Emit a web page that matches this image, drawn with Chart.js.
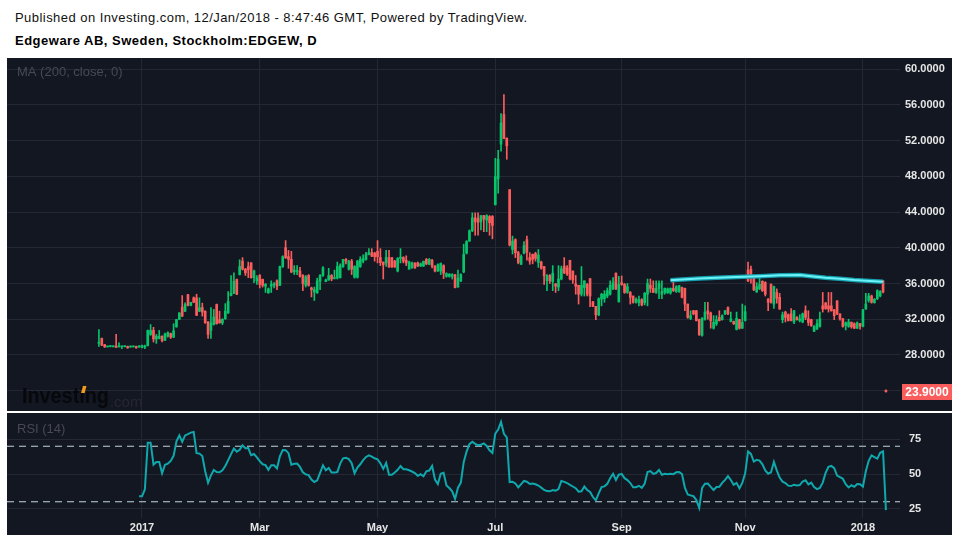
<!DOCTYPE html>
<html>
<head>
<meta charset="utf-8">
<title>Edgeware AB, Stockholm:EDGEW, D</title>
<script src="https://cdn.jsdelivr.net/npm/chart.js@4.4.1/dist/chart.umd.min.js"></script>
<style>
  html, body { margin: 0; padding: 0; background: #fff; }
  body { width: 960px; height: 540px; position: relative; overflow: hidden; font-family: Arial, "Liberation Sans", sans-serif; }
  #pub { position: absolute; left: 15px; top: 10px; font-size: 13px; color: #111; white-space: nowrap; letter-spacing: 0.45px; }
  #title { position: absolute; left: 15px; top: 33px; font-size: 13px; font-weight: bold; color: #000; letter-spacing: 0.5px; white-space: nowrap; }
  #panel { position: absolute; left: 7px; top: 58px; width: 945px; height: 477px; background: #131722; }
  #mainBox { position: absolute; left: 7px; top: 58px; width: 945px; height: 353px; }
  #sep { position: absolute; left: 7px; top: 411px; width: 945px; height: 2px; background: #fff; }
  #rsiBox { position: absolute; left: 7px; top: 413px; width: 945px; height: 122px; }
</style>
</head>
<body>
<div id="pub">Published on Investing.com, 12/Jan/2018 - 8:47:46 GMT, Powered by TradingView.</div>
<div id="title">Edgeware AB, Sweden, Stockholm:EDGEW, D</div>
<div id="panel"></div>
<div id="mainBox"><canvas id="mainChart" width="945" height="353"></canvas></div>
<div id="sep"></div>
<div id="rsiBox"><canvas id="rsiChart" width="945" height="122"></canvas></div>
<script>
// daily candles, one entry per trading day: [open, high, low, close]
const dec2016 = [
  [29.3,30.85,28.97,29.4],[29.85,29.9,29.05,29.1],[29.15,29.2,28.85,28.9],[28.9,29.0,28.9,28.95],[28.95,29.0,28.9,28.95],
  [28.92,29.0,28.9,28.95],[29.0,30.3,28.85,28.85],[28.9,29.35,28.9,28.95],[28.92,28.97,28.7,28.95],[28.93,29.0,28.9,28.95],
  [28.95,29.0,28.75,28.8],[28.9,29.0,28.85,28.95],[28.9,28.97,28.9,28.95],[28.95,29.0,28.75,28.8],[28.9,29.05,28.85,28.95]
];
const jan2017 = [
  [28.85,29.1,28.8,29.05],[28.9,29.1,28.7,29.0],[29.05,30.8,29.0,30.75],[30.3,31.4,30.2,30.75],[30.75,31.1,29.45,29.8],
  [29.8,30.3,29.3,30.1],[29.85,30.75,29.8,30.1],[30.1,30.15,29.45,29.6],[29.65,30.45,29.6,30.35],[30.1,30.6,30.0,30.5],
  [30.4,30.45,29.85,30.0],[30.0,31.5,29.95,30.7],[31.15,32.0,31.1,31.95],[32.0,32.75,31.95,32.7],[33.35,34.65,32.3,32.35],
  [32.9,33.85,32.85,33.65],[34.75,34.8,33.5,33.55],[33.55,33.9,33.5,33.9],[34.4,34.5,33.85,33.9],[34.4,34.8,32.4,32.45],
  [32.9,34.4,32.85,33.3]
];
const feb2017 = [
  [33.3,33.8,32.35,32.8],[32.9,32.95,31.55,31.6],[31.7,31.75,29.85,30.3],[30.75,33.3,29.85,31.6],[31.4,33.1,31.35,32.25],
  [33.65,33.7,31.45,31.5],[31.95,32.9,31.55,31.6],[31.6,32.05,31.4,32.0],[32.05,33.75,32.0,32.9],[32.7,35.1,32.65,34.0],
  [34.65,36.9,34.6,34.9],[34.9,37.2,34.85,36.25],[36.45,36.5,34.75,34.8],[37.0,38.65,36.95,37.9],[38.5,38.9,37.5,37.6],
  [37.6,37.7,36.9,37.2],[37.9,38.4,36.65,37.55],[38.3,38.35,36.6,36.65],[36.65,37.5,36.1,37.4],[36.3,36.9,35.9,36.6]
];
const mar2017 = [
  [36.9,37.0,35.5,35.9],[36.45,36.5,35.6,35.8],[35.7,36.0,35.0,35.9],[34.95,35.5,34.9,35.4],[35.7,36.3,35.0,35.9],
  [35.85,36.1,35.5,35.9],[36.3,36.4,35.3,35.7],[35.8,37.95,35.75,37.9],[37.9,39.1,37.8,39.0],[40.0,40.8,38.8,38.9],
  [39.0,39.7,37.7,38.7],[38.7,39.6,37.2,37.3],[37.3,38.0,37.0,37.5],[37.35,38.0,37.0,37.4],[37.4,37.8,36.7,36.8],
  [36.9,37.0,35.2,36.0],[35.8,36.9,35.6,36.75],[36.9,37.0,35.7,35.8],[35.5,35.6,34.5,35.3],[35.05,35.6,34.1,35.3],
  [34.95,36.6,34.9,36.3],[36.25,37.0,35.3,36.9],[36.9,37.9,36.8,37.75]
];
const apr2017 = [
  [36.2,36.5,36.2,36.4],[36.4,37.7,36.35,36.9],[36.9,37.0,36.3,36.5],[36.55,37.5,36.5,36.65],[36.6,38.4,36.5,37.9],
  [36.65,38.2,36.6,38.0],[37.9,38.7,37.8,38.7],[38.7,38.8,38.2,38.5],[37.6,38.6,37.5,38.5],[38.5,38.7,37.0,37.6],
  [36.7,38.0,36.6,37.9],[36.7,38.6,36.6,38.5],[37.9,39.0,37.8,38.7],[38.5,39.2,38.3,38.8],[38.7,39.5,38.6,39.3],
  [39.25,39.9,39.2,39.45],[39.45,39.9,39.0,39.05],[39.4,39.5,38.5,39.0]
];
const may2017 = [
  [39.6,40.8,38.3,39.0],[38.9,39.9,38.0,38.35],[38.4,38.4,36.5,38.1],[38.3,39.7,37.9,38.9],[38.9,39.7,37.8,37.85],
  [38.9,38.9,37.8,37.85],[38.5,38.6,37.8,37.85],[37.4,38.9,37.3,38.8],[38.8,39.9,38.3,38.95],[38.9,39.0,38.3,38.5],
  [38.6,39.1,38.0,38.3],[37.6,38.5,37.6,38.4],[37.8,38.4,37.7,38.3],[38.3,38.3,37.7,37.75],[38.3,38.4,37.9,37.95],
  [37.95,38.3,37.9,38.2],[37.95,38.5,37.9,38.5],[38.7,38.8,38.1,38.2],[38.15,38.8,38.1,38.7],[38.6,38.7,37.75,37.95],
  [37.95,38.0,37.3,37.4]
];
const jun2017 = [
  [37.4,38.2,37.35,38.1],[37.4,38.3,37.0,38.25],[38.0,38.1,36.55,37.15],[36.8,37.2,36.7,37.1],[36.8,37.1,36.7,37.05],
  [36.8,37.1,36.5,37.0],[37.0,37.0,35.5,35.55],[35.6,37.5,35.6,36.6],[36.3,37.1,36.2,37.0],[37.3,40.4,37.2,39.25],
  [39.4,40.8,39.3,40.7],[40.75,42.0,40.7,41.9],[41.9,43.9,41.8,43.35],[43.35,43.9,41.4,42.9],[43.3,43.9,41.4,42.85],
  [42.9,43.6,42.0,43.6],[43.6,43.6,41.8,43.2],[43.1,43.7,41.8,43.6],[43.5,43.6,41.4,42.8],[43.5,43.6,41.0,42.5]
];
const jul2017 = [
  [44.8,50.0,44.8,47.96],[47.7,50.9,46.1,49.9],[51.6,55.0,50.8,53.96],[54.9,57.15,52.2,52.2],[52.25,52.3,49.9,51.4],
  [46.5,46.5,40.2,40.3],[39.8,41.3,39.3,40.75],[40.9,41.0,38.9,39.45],[39.45,39.6,38.2,38.35],[38.15,39.2,38.1,39.05],
  [39.4,40.7,39.3,40.25],[40.9,41.3,38.6,39.5],[38.9,39.45,38.15,38.5],[39.25,39.3,38.2,38.7],[39.35,39.5,38.5,38.8],
  [38.35,39.8,37.8,39.2],[38.4,38.5,37.6,37.7],[37.9,37.9,35.9,36.85],[36.3,37.0,35.2,36.9],[36.9,37.0,36.0,36.3],
  [36.2,38.0,35.2,37.15]
];
const aug2017 = [
  [35.95,36.0,35.0,35.7],[35.6,38.0,35.2,36.5],[36.5,37.95,36.4,37.65],[37.95,38.9,37.1,37.2],[37.75,38.0,36.9,37.05],
  [38.6,38.6,36.4,36.5],[37.4,37.4,36.0,36.4],[35.95,36.9,34.8,35.7],[35.8,35.8,33.7,34.8],[34.8,37.9,34.6,35.8],
  [35.55,36.3,34.6,36.3],[35.9,36.0,34.6,34.8],[36.55,36.55,33.4,34.6],[33.95,34.0,33.4,33.45],[33.45,33.45,31.95,32.5],
  [32.5,34.4,32.4,34.3],[34.26,34.9,33.5,34.8],[34.3,35.2,33.9,34.8],[34.6,35.5,34.4,35.2],[34.8,36.3,34.7,35.8],
  [35.4,36.65,35.3,36.1],[37.15,37.2,35.3,35.4],[33.96,36.8,33.9,35.9]
];
const sep2017 = [
  [36.1,36.85,35.8,35.9],[35.9,36.0,34.9,35.0],[35.0,36.0,34.9,35.65],[35.0,35.1,33.7,34.45],[34.6,34.6,33.8,33.9],
  [33.9,34.4,33.8,34.25],[33.85,34.6,33.5,34.2],[34.2,34.3,33.5,33.6],[33.85,35.0,33.6,34.9],[34.8,36.5,33.5,36.0],
  [35.8,36.5,35.0,35.45],[35.45,36.3,35.0,35.0],[35.0,36.3,34.9,35.45],[35.45,36.3,34.3,36.0],[34.8,36.3,34.3,35.1],
  [35.0,35.5,34.8,35.45],[34.95,35.5,34.9,35.4],[34.95,35.5,34.8,35.45],[35.45,36.4,35.1,35.2],[35.1,35.75,35.0,35.65],
  [35.1,35.8,35.0,35.75]
];
const oct2017 = [
  [35.55,35.6,34.4,34.45],[35.45,35.5,32.95,33.7],[33.7,33.7,32.1,32.2],[32.1,32.95,31.95,32.4],[32.95,33.0,32.5,32.6],
  [32.95,33.0,31.8,31.85],[32.0,32.0,30.2,30.25],[30.2,32.2,30.1,32.1],[32.0,33.9,31.9,32.8],[32.95,33.9,32.0,32.6],
  [32.7,32.8,31.0,31.85],[31.0,32.4,30.9,31.65],[31.5,32.4,31.3,31.95],[32.2,32.95,31.8,31.85],[31.95,32.5,31.9,32.4],
  [32.6,33.0,32.5,32.95],[33.3,33.4,32.5,32.6],[31.75,32.8,31.7,32.05],[31.75,31.8,31.4,31.5],[30.85,32.8,30.8,32.1],
  [31.95,32.0,30.9,31.0],[31.0,33.7,30.95,31.65]
];
const nov2017 = [
  [31.85,33.5,31.8,32.85],[37.5,38.4,36.2,36.3],[37.6,37.95,36.05,36.85],[36.85,36.9,35.2,35.3],[35.05,36.1,35.0,35.65],
  [35.4,36.9,35.3,35.9],[36.25,36.3,35.1,35.2],[36.1,36.2,34.6,34.8],[34.25,34.3,32.95,33.9],[35.9,35.95,33.8,33.9],
  [33.7,35.7,33.2,35.65],[35.0,35.4,33.8,34.35],[34.45,34.9,33.1,33.15],[31.95,32.8,31.6,32.5],[32.8,32.9,31.7,32.2],
  [32.5,32.6,31.8,31.85],[32.6,33.2,31.8,31.85],[31.7,33.0,31.5,32.95],[32.2,32.3,31.9,31.95],[31.85,32.5,31.7,32.05],
  [31.7,32.7,31.6,32.6],[32.95,33.5,31.95,32.2]
];
const dec2017 = [
  [32.05,32.95,31.3,31.65],[31.95,32.0,31.2,31.3],[30.65,31.3,30.6,31.2],[30.9,31.95,30.85,31.5],[31.2,32.8,31.1,32.05],
  [33.5,35.0,32.8,33.15],[33.8,33.9,33.1,33.2],[33.5,35.0,32.8,33.15],[33.5,35.0,32.9,32.95],[33.05,33.1,31.95,32.4],
  [34.05,34.1,32.5,32.6],[32.6,32.6,31.9,32.05],[32.05,32.1,31.1,31.2],[31.3,31.7,30.8,31.6],[31.2,32.0,31.1,31.7],
  [31.65,31.7,31.0,31.15],[31.5,31.6,30.95,31.0],[31.0,31.7,30.95,31.6],[31.5,31.55,30.9,31.25]
];
const jan2018 = [
  [31.2,33.1,31.15,33.05],[33.15,34.9,33.1,33.7],[34.1,34.9,33.9,34.6],[34.6,34.7,33.8,33.9],[33.85,34.3,33.8,34.25],
  [34.3,35.3,34.2,35.2],[34.6,35.2,34.5,35.1],[36.3,36.35,34.95,35.05],[24.05,24.1,23.85,23.9]
];

// MA(200) line at a few bars
const maIndex  = [199, 203, 209, 215, 222, 230, 237, 244, 248, 253, 258, 263, 267, 273];
const maValues = [36.37, 36.45, 36.55, 36.65, 36.72, 36.82, 36.93, 36.95, 36.82, 36.65, 36.52, 36.38, 36.3, 36.2];

// RSI(14), starting at bar 14
const rsiStart = 14;
const rsiValues = [
  33.9, 33.9, 38.9, 72.6, 72.6, 56.7, 58.7, 58.7, 50.5, 56.7,
  57.5, 59.4, 63.1, 73.6, 77.9, 73.2, 77.8, 78.7, 79.8, 80.3,
  65, 64.7, 63, 52, 43.7, 49, 52.9, 51.4, 51.2, 52.7,
  55.8, 60, 64.3, 68.3, 66, 67.4, 70.7, 68.6, 68.7, 63.5,
  64.4, 62, 59.3, 57, 56.4, 53, 56.25, 56.25, 54, 62.8,
  67.3, 67.2, 65, 56.7, 57.4, 57.5, 55.1, 51.2, 49.7, 49.2,
  46, 44.2, 45.4, 50.8, 56.3, 52.7, 54.3, 51, 51, 51.4,
  57.5, 61.3, 61.7, 60.7, 57.8, 50.5, 54.7, 57, 60, 62.3,
  63.5, 62.5, 61.3, 60.6, 57.7, 53.7, 58, 49.5, 49.5, 51.1,
  53, 55.7, 53.4, 53.4, 52.7, 51.8, 50.7, 48.7, 49.8, 48.4,
  51.9, 52.5, 55.8, 46, 42.7, 50.2, 50.9, 41.8, 39.9, 37.5,
  32, 40.1, 43.75, 58.5, 66.2, 71.5, 73.2, 71.7, 70.7, 71.1,
  72.1, 70.2, 67.1, 65.2, 79.1, 82, 87.5, 79, 76.4, 44.2,
  44.4, 43.2, 40.4, 42.7, 45, 44.4, 42.8, 43.2, 42.6, 41.7,
  40.2, 38.5, 37.7, 37.5, 38.4, 38, 39.1, 45, 44.3, 43.5,
  42.2, 41, 39.8, 37.3, 37.6, 41, 38.5, 37.1, 33.4, 31,
  36, 40.6, 41.1, 42.9, 47, 50.2, 45.7, 49.5, 50.1, 47,
  45.6, 43.5, 40.4, 40.5, 41.5, 40, 43, 51.4, 52.1, 50.1,
  50.7, 53, 49.5, 50.2, 49.9, 50.1, 49.9, 51.2, 51.4, 50,
  40.2, 35.2, 34.6, 34, 31.2, 25.5, 40, 43, 43.1, 40.7,
  38.5, 40.6, 40.8, 43.6, 45.8, 48.5, 45.7, 42.2, 43.6, 39.6,
  43.6, 50.5, 66.3, 64.5, 59, 60.2, 59.7, 57, 52.6, 50.2,
  51.3, 58.7, 52.6, 47.4, 44.5, 43.5, 41.6, 41.3, 42.3, 41.8,
  42, 44.6, 45.5, 42.5, 43.8, 40.6, 39.1, 40, 43.8, 50.8,
  55.2, 55.8, 54.2, 48.9, 47.8, 46.6, 42.6, 40.3, 41.9, 40.8,
  42.8, 42.7, 40.9, 52, 59.5, 63.4, 62.2, 61.1, 65.3, 66.3, 24
];

// axis ticks
const xTickIndex  = [15, 56, 97, 138, 182, 225, 266];
const xTickLabels = ['2017', 'Mar', 'May', 'Jul', 'Sep', 'Nov', '2018'];
const priceTicks  = [24, 28, 32, 36, 40, 44, 48, 52, 56, 60];
const rsiTicks    = [25, 50, 75];
const rsiBands    = [70, 30];

const upColor = '#08c46b';
const downColor = '#fb5d5d';
const gridColor = '#242834';
const labelColor = '#e6e6e6';
const faintText = '#464a56';
const xMin = -32, xMax = 278.9;

const candles = [].concat(dec2016, jan2017, feb2017, mar2017, apr2017, may2017, jun2017,
  jul2017, aug2017, sep2017, oct2017, nov2017, dec2017, jan2018);

const wickData = candles.map((c, i) => ({ x: i, y: [c[2], c[1]] }));
const bodyData = candles.map((c, i) => ({ x: i, y: [Math.min(c[0], c[3]), Math.max(c[0], c[3])] }));
const candleColors = candles.map(c => c[3] >= c[0] ? upColor : downColor);
const maData = maIndex.map((x, k) => ({ x: x, y: maValues[k] }));
const rsiData = rsiValues.map((v, k) => ({ x: rsiStart + k, y: v }));

const axisFont = { family: 'Arial, "Liberation Sans", sans-serif', size: 11, weight: 'bold' };

// main pane: candles + MA
new Chart(document.getElementById('mainChart').getContext('2d'), {
  type: 'bar',
  data: {
    datasets: [
      { type: 'line', data: maData, borderColor: '#6af2f6', borderWidth: 2, pointRadius: 0, order: 0 },
      { type: 'line', data: maData, borderColor: '#159fae', borderWidth: 4.5, pointRadius: 0, order: 1 },
      { data: bodyData, backgroundColor: candleColors, barThickness: 2, minBarLength: 1, grouped: false, order: 2 },
      { data: wickData, backgroundColor: candleColors, barThickness: 1, minBarLength: 1, grouped: false, order: 3 }
    ]
  },
  options: {
    responsive: false,
    animation: false,
    events: [],
    layout: { padding: 0, autoPadding: false },
    plugins: { legend: { display: false }, tooltip: { enabled: false } },
    scales: {
      x: {
        type: 'linear', min: xMin, max: xMax, offset: false,
        afterBuildTicks: s => { s.ticks = xTickIndex.map(v => ({ value: v })); },
        ticks: { display: false },
        grid: { color: gridColor, drawTicks: false, offset: false },
        border: { display: false },
        afterFit: s => { s.height = 0; s.paddingLeft = 0; s.paddingRight = 0; }
      },
      y: {
        position: 'right', min: 21.734, max: 61.231,
        afterBuildTicks: s => { s.ticks = priceTicks.map(v => ({ value: v })); },
        ticks: { color: labelColor, font: axisFont, padding: 5, callback: v => v >= 28 ? v.toFixed(4) : '' },
        grid: { color: gridColor, drawTicks: false },
        border: { display: false },
        afterFit: s => { s.width = 52; s.paddingTop = 0; s.paddingBottom = 0; }
      }
    }
  },
  plugins: [{
    id: 'mainText',
    beforeDatasetsDraw(chart) {
      const ctx = chart.ctx;
      ctx.save();
      ctx.fillStyle = faintText;
      ctx.font = '13px Arial, "Liberation Sans", sans-serif';
      ctx.textBaseline = 'middle';
      ctx.fillText('MA (200, close, 0)', 10, 14);
      // watermark logo
      ctx.translate(15, 345);
      ctx.save();
      ctx.scale(0.9, 1);
      ctx.font = 'bold 22px Arial, "Liberation Sans", sans-serif';
      ctx.textBaseline = 'alphabetic';
      ctx.fillStyle = '#07080b';
      ctx.fillText('Investing', 0, 0);
      const wInv = ctx.measureText('Investing').width;
      const wPre = ctx.measureText('Invest').width;
      const wI = ctx.measureText('i').width;
      ctx.fillStyle = '#f29a1b';
      ctx.beginPath();
      const dx = wPre + wI / 2;
      ctx.moveTo(dx - 1, -10); ctx.lineTo(dx + 3, -10); ctx.lineTo(dx + 5, -17); ctx.lineTo(dx + 1, -17);
      ctx.closePath(); ctx.fill();
      ctx.restore();
      ctx.font = '15px Arial, "Liberation Sans", sans-serif';
      ctx.fillStyle = '#262830';
      ctx.fillText('.com', wInv * 0.9 + 1, 0);
      ctx.restore();
    },
    afterDraw(chart) {
      const ctx = chart.ctx;
      const y = chart.scales.y.getPixelForValue(candles[candles.length - 1][3]);
      const right = chart.chartArea.right;
      ctx.save();
      ctx.fillStyle = downColor;
      ctx.fillRect(right + 2, Math.round(y) - 8, 50, 16);
      ctx.fillStyle = '#ffffff';
      ctx.font = 'bold 12px Arial, "Liberation Sans", sans-serif';
      ctx.textAlign = 'center';
      ctx.textBaseline = 'middle';
      ctx.fillText(candles[candles.length - 1][3].toFixed(4), right + 27, Math.round(y) + 0.5);
      ctx.restore();
    }
  }]
});

// RSI pane
const bandSets = rsiBands.map(v => ({
  data: [{ x: xMin, y: v }, { x: xMax, y: v }],
  borderColor: '#c3d6dc', borderWidth: 1, borderDash: [7, 5], pointRadius: 0, order: 1
}));

new Chart(document.getElementById('rsiChart').getContext('2d'), {
  type: 'line',
  data: {
    datasets: [
      { data: rsiData, borderColor: '#0fa8ad', borderWidth: 2, pointRadius: 0, tension: 0, order: 0 }
    ].concat(bandSets)
  },
  options: {
    responsive: false,
    animation: false,
    events: [],
    layout: { padding: 0, autoPadding: false },
    plugins: { legend: { display: false }, tooltip: { enabled: false } },
    scales: {
      x: {
        type: 'linear', min: xMin, max: xMax, offset: false,
        afterBuildTicks: s => { s.ticks = xTickIndex.map(v => ({ value: v })); },
        ticks: { color: labelColor, font: axisFont, padding: 3, maxRotation: 0, autoSkip: false,
                 callback: (v, i) => xTickLabels[i] },
        grid: { color: gridColor, drawTicks: false, offset: false },
        border: { display: false },
        afterFit: s => { s.height = 17; s.paddingLeft = 0; s.paddingRight = 0; }
      },
      y: {
        position: 'right', min: 18.3, max: 93.95,
        afterBuildTicks: s => { s.ticks = rsiTicks.map(v => ({ value: v })); },
        ticks: { color: labelColor, font: axisFont, padding: 9 },
        grid: { color: gridColor, drawTicks: false },
        border: { display: false },
        afterFit: s => { s.width = 52; s.paddingTop = 0; s.paddingBottom = 0; }
      }
    }
  },
  plugins: [{
    id: 'rsiText',
    beforeDatasetsDraw(chart) {
      const ctx = chart.ctx;
      ctx.save();
      ctx.fillStyle = faintText;
      ctx.font = '13px Arial, "Liberation Sans", sans-serif';
      ctx.textBaseline = 'middle';
      ctx.fillText('RSI (14)', 10, 16);
      ctx.restore();
    }
  }]
});
</script>
</body>
</html>
